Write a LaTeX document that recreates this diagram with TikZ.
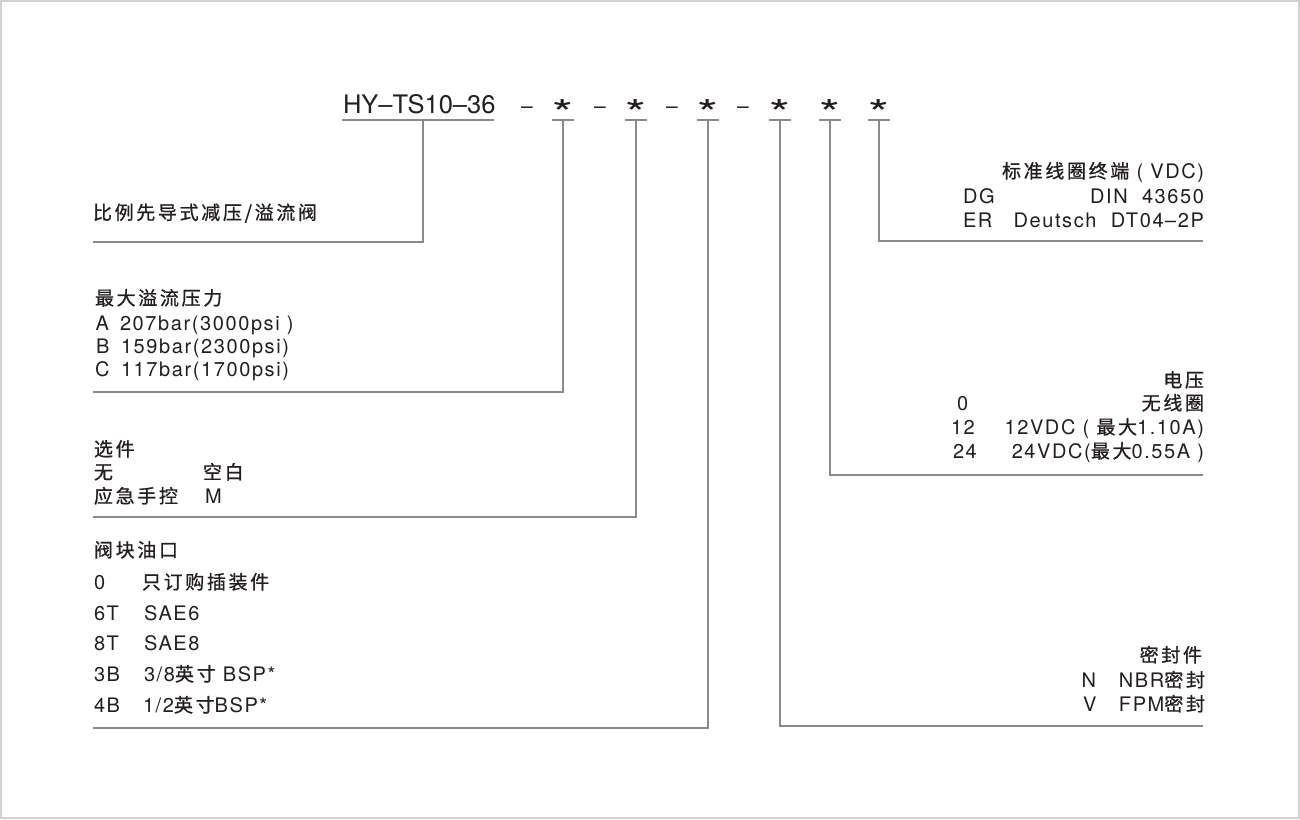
\documentclass[tikz,border=0pt]{standalone}
\usepackage{fontspec}
\usepackage{graphicx}
\setmainfont{TeX Gyre Heros}[LetterSpace=8]
\newfontfamily\hdrf{TeX Gyre Heros}
\newfontfamily\cjkf{Noto Sans CJK SC}[LetterSpace=14,FakeBold=0.8]
\newcommand\cn[1]{{\cjkf\fontsize{19}{24}\selectfont #1}}
\definecolor{txt}{HTML}{231F20}
\definecolor{ln}{HTML}{8A8A8A}
\definecolor{framec}{HTML}{D2D2D2}
\begin{document}
\begin{tikzpicture}[x=1pt,y=-1pt,
  lbl/.style={inner sep=0pt, outer sep=0pt, text=txt, font=\fontsize{20}{24}\selectfont},
  lw/.style={lbl, anchor=base west},
  le/.style={lbl, anchor=base east},
  conn/.style={draw=ln, line width=1.3pt},
  hdr/.style={inner sep=0pt, outer sep=0pt, text=txt, font=\hdrf\fontsize{25.5}{30}\selectfont, anchor=base west},
  sepd/.style={inner sep=0pt, outer sep=0pt, text=txt, font=\hdrf\fontsize{21}{24}\selectfont, anchor=north},
  star/.style={inner sep=0pt, outer sep=0pt, text=txt, font=\hdrf\fontsize{37}{40}\selectfont, anchor=north}]
\useasboundingbox (0,0) rectangle (1300,819);
\fill[framec] (0,0) rectangle (1300,819);
\fill[white] (2,2) rectangle (1298,817);

% header
\node[hdr] (code) at (343,113) {HY–TS10–36};
\node[sepd] (d1) at (527,106.5) {–};
\node[sepd] (d2) at (600,106.5) {–};
\node[sepd] (d3) at (672,106.5) {–};
\node[sepd] (d4) at (743,106.5) {–};
\node[star] (s1) at (563,100) {\scalebox{1.45}[1]{*}};
\node[star] (s2) at (636,100) {\scalebox{1.45}[1]{*}};
\node[star] (s3) at (708,100) {\scalebox{1.45}[1]{*}};
\node[star] (s4) at (780,100) {\scalebox{1.45}[1]{*}};
\node[star] (s5) at (830,100) {\scalebox{1.45}[1]{*}};
\node[star] (s6) at (879,100) {\scalebox{1.45}[1]{*}};

% tick coordinates
\coordinate (u0l) at (342,120); \coordinate (u0r) at (494,120); \coordinate (u0) at (423,120);
\foreach \n/\x in {1/563,2/636,3/708,4/780,5/830,6/879}{
  \coordinate (u\n) at (\x,120);
  \draw[conn] (\x-11,120) -- (\x+11,120);
}
\draw[conn] (u0l) -- (u0r);

% corner coordinates
\coordinate (c0) at (423,242); \coordinate (e0) at (93,242);
\coordinate (c1) at (563,392); \coordinate (e1) at (93,392);
\coordinate (c2) at (636,517); \coordinate (e2) at (93,517);
\coordinate (c3) at (708,728); \coordinate (e3) at (93,728);
\coordinate (c4) at (780,726); \coordinate (e4) at (1203,726);
\coordinate (c5) at (830,475); \coordinate (e5) at (1203,475);
\coordinate (c6) at (879,241); \coordinate (e6) at (1203,241);
\draw[conn] (u0) -- (c0) -- (e0);
\draw[conn] (u1) -- (c1) -- (e1);
\draw[conn] (u2) -- (c2) -- (e2);
\draw[conn] (u3) -- (c3) -- (e3);
\draw[conn] (u4) -- (c4) -- (e4);
\draw[conn] (u5) -- (c5) -- (e5);
\draw[conn] (u6) -- (c6) -- (e6);

% block 1
\node[lw] (t1) at (93,219.5) {\cn{比例先导式减压/溢流阀}};

% block 2
\node[lw] (t2) at (95,305) {\cn{最大溢流压力}};
\node[lw] (a1) at (95.5,330) {A};
\node[lw] (a2) at (120,330) {207bar(3000psi )};
\node[lw] (b1) at (96,353) {B};
\node[lw] (b2) at (121,353) {159bar(2300psi)};
\node[lw] (k1) at (95,376) {C};
\node[lw] (k2) at (121,376) {117bar(1700psi)};

% block 3
\node[lw] (t3) at (94,456) {\cn{选件}};
\node[lw] (o1) at (94,479) {\cn{无}};
\node[lw] (o2) at (203,479) {\cn{空白}};
\node[lw] (o3) at (94,503) {\cn{应急手控}};
\node[lw] (o4) at (205,503) {M};

% block 4
\node[lw] (t4) at (94,557) {\cn{阀块油口}};
\node[lw] (p1) at (94,589) {0};
\node[lw] (p2) at (142,589) {\cn{只订购插装件}};
\node[lw] (p3) at (94,620) {6T};
\node[lw] (p4) at (144,620) {SAE6};
\node[lw] (p5) at (94,650.5) {8T};
\node[lw] (p6) at (144,650.5) {SAE8};
\node[lw] (p7) at (94,681) {3B};
\node[lw] (p8) at (144,681) {3/8\cn{英寸} BSP*};
\node[lw] (p9) at (94,712) {4B};
\node[lw] (p10) at (143,712) {1/2\cn{英寸}BSP*};

% block 5
\node[le] (t5) at (1204,178) {\cn{标准线圈终端} ( VDC)};
\node[lw] (g1) at (963,203) {DG};
\node[le] (g2) at (1204,203) {DIN\ \ 43650};
\node[lw] (g3) at (963,227) {ER};
\node[le] (g4) at (1204,227) {Deutsch\ \ DT04–2P};

% block 6
\node[le] (t6) at (1204,387) {\cn{电压}};
\node[lw] (v1) at (957,410) {0};
\node[le] (v2) at (1204,410) {\cn{无线圈}};
\node[lw] (v3) at (951,434) {12};
\node[le] (v4) at (1204,434) {12VDC ( \cn{最大}1.10A)};
\node[lw] (v5) at (953,458) {24};
\node[le] (v6) at (1204,458) {24VDC(\cn{最大}0.55A )};

% block 7
\node[le] (t7) at (1202,662) {\cn{密封件}};
\node[lw] (n1) at (1081.5,687) {N};
\node[le] (n2) at (1205,687) {NBR\cn{密封}};
\node[lw] (n3) at (1083,711) {V};
\node[le] (n4) at (1205,711) {FPM\cn{密封}};
\end{tikzpicture}
\end{document}
